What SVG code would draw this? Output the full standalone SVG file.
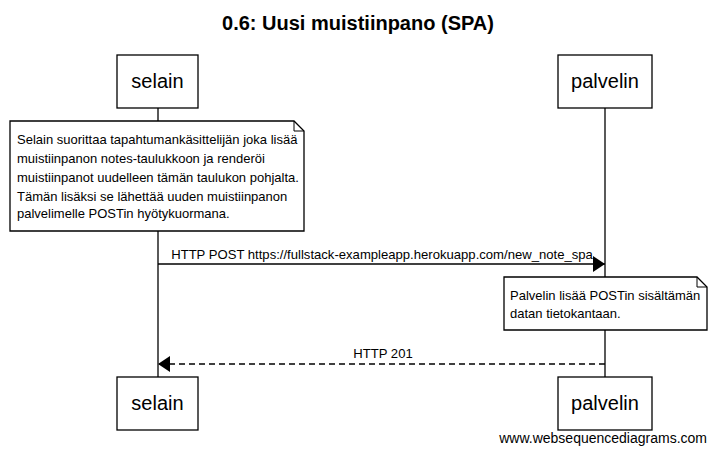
<svg xmlns="http://www.w3.org/2000/svg" width="716" height="454" viewBox="0 0 716 454">
<defs>
<style>
text{font-family:"Liberation Sans",Arial,sans-serif;fill:#000}
.box{fill:#fff;stroke:#000;stroke-width:1.3}
.life{stroke:#000;stroke-width:1.3}
.actor{font-size:20px;text-anchor:middle}
.note{font-size:13px}
.lbl{font-size:13.1px;text-anchor:middle}
.msg{stroke:#000;stroke-width:1.3;fill:none}
</style>
<marker id="ah" markerWidth="12" markerHeight="16" refX="12" refY="8" orient="auto" markerUnits="userSpaceOnUse">
<path d="M0,0 L12,8 L0,16 Z" fill="#000"/>
</marker>
</defs>
<rect width="716" height="454" fill="#fff"/>
<text x="358" y="30" font-size="20" font-weight="bold" text-anchor="middle">0.6: Uusi muistiinpano (SPA)</text>
<g id="lifelines">
<line class="life" x1="158" y1="108" x2="158" y2="377"/>
<line class="life" x1="605" y1="108" x2="605" y2="377"/>
</g>
<g id="selain-top"><rect class="box" x="117" y="55" width="81" height="53"/><text class="actor" x="157.5" y="88">selain</text></g>
<g id="palvelin-top"><rect class="box" x="558" y="55" width="94" height="53"/><text class="actor" x="605" y="88">palvelin</text></g>
<g id="selain-bottom"><rect class="box" x="117" y="377" width="81" height="53"/><text class="actor" x="157.5" y="410">selain</text></g>
<g id="palvelin-bottom"><rect class="box" x="558" y="377" width="94" height="53"/><text class="actor" x="605" y="410">palvelin</text></g>
<g id="note1">
<path class="box" d="M10,121 H294 L304,131 V231 H10 Z"/>
<path d="M294,121 V131 H304" fill="none" stroke="#000" stroke-width="1"/>
<text class="note" x="17" y="144">Selain suorittaa tapahtumankäsittelijän joka lisää</text>
<text class="note" x="17" y="163">muistiinpanon notes-taulukkoon ja renderöi</text>
<text class="note" x="17" y="182">muistiinpanot uudelleen tämän taulukon pohjalta.</text>
<text class="note" x="17" y="201">Tämän lisäksi se lähettää uuden muistiinpanon</text>
<text class="note" x="17" y="218">palvelimelle POSTin hyötykuormana.</text>
</g>
<g id="note2">
<path class="box" d="M504,277 H697 L707,287 V330 H504 Z"/>
<path d="M697,277 V287 H707" fill="none" stroke="#000" stroke-width="1"/>
<text class="note" x="510" y="300">Palvelin lisää POSTin sisältämän</text>
<text class="note" x="510" y="318">datan tietokantaan.</text>
</g>
<g id="connectors">
<line class="msg" x1="158" y1="264" x2="605" y2="264" marker-end="url(#ah)"/>
<text class="lbl" x="382" y="259">HTTP POST https://fullstack-exampleapp.herokuapp.com/new_note_spa</text>
<line class="msg" x1="605" y1="364" x2="158" y2="364" stroke-dasharray="6,4" marker-end="url(#ah)"/>
<text class="lbl" x="383" y="358">HTTP 201</text>
</g>
<text x="707" y="443" font-size="14" text-anchor="end">www.websequencediagrams.com</text>
</svg>
